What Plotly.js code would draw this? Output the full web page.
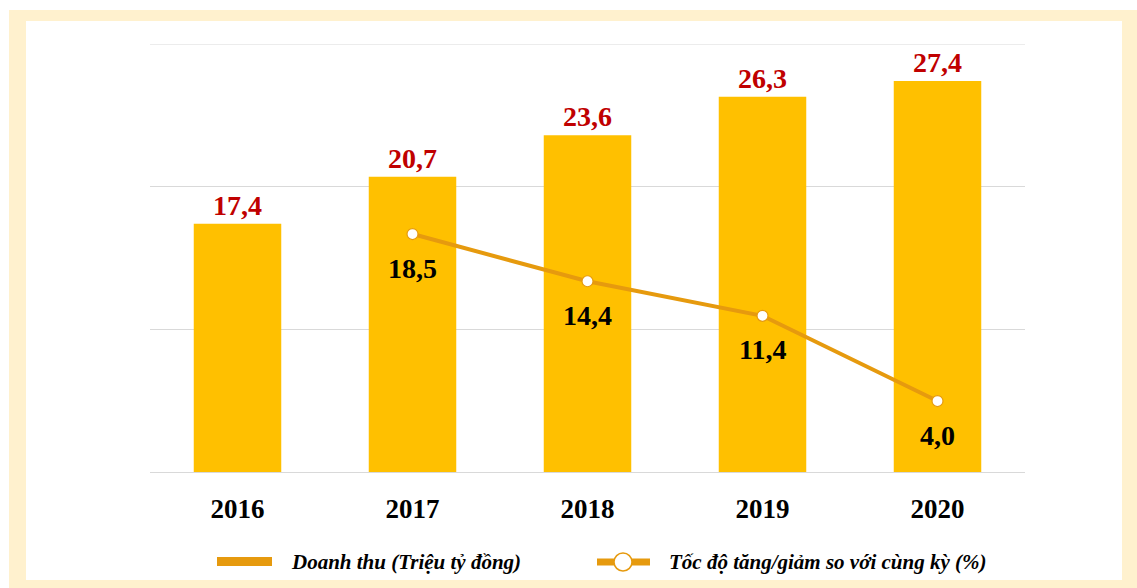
<!DOCTYPE html>
<html>
<head>
<meta charset="utf-8">
<script src="https://cdn.plot.ly/plotly-3.0.1.min.js"></script>
<style>
  html, body { margin:0; padding:0; background:#ffffff; width:1137px; height:588px; overflow:hidden; }
  #frame { position:absolute; left:9px; top:10px; width:1128px; height:578px; background:#FFF1CE; }
  #inner { position:absolute; left:26px; top:21px; width:1096px; height:559px; background:#ffffff; }
  #chart { position:absolute; left:0; top:0; width:1137px; height:588px; }
</style>
</head>
<body>
<div id="frame"></div>
<div id="inner"></div>
<div id="chart"></div>
<script>
// Data
const years = ['2016', '2017', '2018', '2019', '2020'];
const revenue = [17.4, 20.7, 23.6, 26.3, 27.4];
const growthYears = ['2017', '2018', '2019', '2020'];
const growth = [18.5, 14.4, 11.4, 4.0];
const legendLabels = ['Doanh thu (Triệu tỷ đồng)', 'Tốc độ tăng/giảm so với cùng kỳ (%)'];

const barColor = '#FFC000';
const lineColor = '#E69A0E';
const serif = 'Liberation Serif, Times New Roman, serif';
const fmt = v => v.toFixed(1).replace('.', ',');

// plot area geometry (px) for legend placement
const L = 150, R = 1025, T = 44, B = 472;
const xp = px => (px - L) / (R - L);
const yp = py => (B - py) / (B - T);

const traces = [
  {
    type: 'bar',
    x: years,
    y: revenue,
    marker: { color: barColor },
    text: revenue,
    texttemplate: '%{y:.1f}',
    textposition: 'outside',
    constraintext: 'none',
    cliponaxis: false,
    textfont: { family: serif, size: 28, color: '#C00000', weight: 'bold' },
    hoverinfo: 'skip',
    showlegend: false
  },
  {
    type: 'scatter',
    mode: 'lines+markers',
    x: growthYears,
    y: growth,
    yaxis: 'y2',
    line: { color: lineColor, width: 4 },
    marker: { size: 11, color: '#ffffff', line: { color: lineColor, width: 1.2 } },
    cliponaxis: false,
    hoverinfo: 'skip',
    showlegend: false
  }
];

const growthLabels = growthYears.map((yr, i) => ({
  xref: 'x', yref: 'y2', x: years.indexOf(yr), y: growth[i],
  text: fmt(growth[i]), showarrow: false,
  xanchor: 'center', yanchor: 'middle', yshift: -34,
  font: { family: serif, size: 28, color: '#000000', weight: 'bold' }
}));

const layout = {
  width: 1137,
  height: 588,
  margin: { l: L, r: 1137 - R, t: T, b: 588 - B, pad: 0 },
  paper_bgcolor: 'rgba(0,0,0,0)',
  plot_bgcolor: 'rgba(0,0,0,0)',
  separators: ',.',
  bargap: 0.5,
  showlegend: false,
  xaxis: {
    type: 'category',
    categoryarray: years,
    categoryorder: 'array',
    range: [-0.5, years.length - 0.5],
    autorange: false,
    showgrid: false,
    zeroline: false,
    showline: false,
    ticks: '',
    ticklabelstandoff: 18,
    tickfont: { family: serif, size: 27, color: '#000000', weight: 'bold' }
  },
  yaxis: {
    range: [0, 30],
    autorange: false,
    dtick: 10,
    tick0: 0,
    showgrid: true,
    gridcolor: '#D9D9D9',
    gridwidth: 1,
    zeroline: true,
    zerolinecolor: '#D9D9D9',
    zerolinewidth: 1,
    showticklabels: false,
    ticks: ''
  },
  yaxis2: {
    overlaying: 'y',
    side: 'right',
    range: [-2.16, 35],
    autorange: false,
    showgrid: false,
    zeroline: false,
    showticklabels: false,
    ticks: ''
  },
  shapes: [
    { type: 'line', xref: 'paper', yref: 'y', layer: 'below',
      x0: 0, x1: 1, y0: 30, y1: 30,
      line: { color: '#D9D9D9', width: 1 } },
    { type: 'rect', xref: 'paper', yref: 'paper',
      x0: xp(217), x1: xp(272), y0: yp(566), y1: yp(557),
      fillcolor: lineColor, line: { width: 0 } },
    { type: 'line', xref: 'paper', yref: 'paper',
      x0: xp(597), x1: xp(650), y0: yp(562), y1: yp(562),
      line: { color: lineColor, width: 7 } },
    { type: 'circle', xref: 'paper', yref: 'paper',
      xsizemode: 'pixel', ysizemode: 'pixel',
      xanchor: xp(623), yanchor: yp(562),
      x0: -9, x1: 9, y0: -9, y1: 9,
      fillcolor: '#ffffff', line: { color: lineColor, width: 1.5 } }
  ],
  annotations: growthLabels.concat([
    { xref: 'paper', yref: 'paper', x: xp(289), y: yp(562),
      xanchor: 'left', yanchor: 'middle', showarrow: false,
      text: legendLabels[0],
      font: { family: serif, size: 21, color: '#000000', style: 'italic', weight: 'bold' } },
    { xref: 'paper', yref: 'paper', x: xp(667), y: yp(562),
      xanchor: 'left', yanchor: 'middle', showarrow: false,
      text: legendLabels[1],
      font: { family: serif, size: 21, color: '#000000', style: 'italic', weight: 'bold' } }
  ])
};

Plotly.newPlot('chart', traces, layout, { displayModeBar: false, staticPlot: true });
</script>
</body>
</html>
